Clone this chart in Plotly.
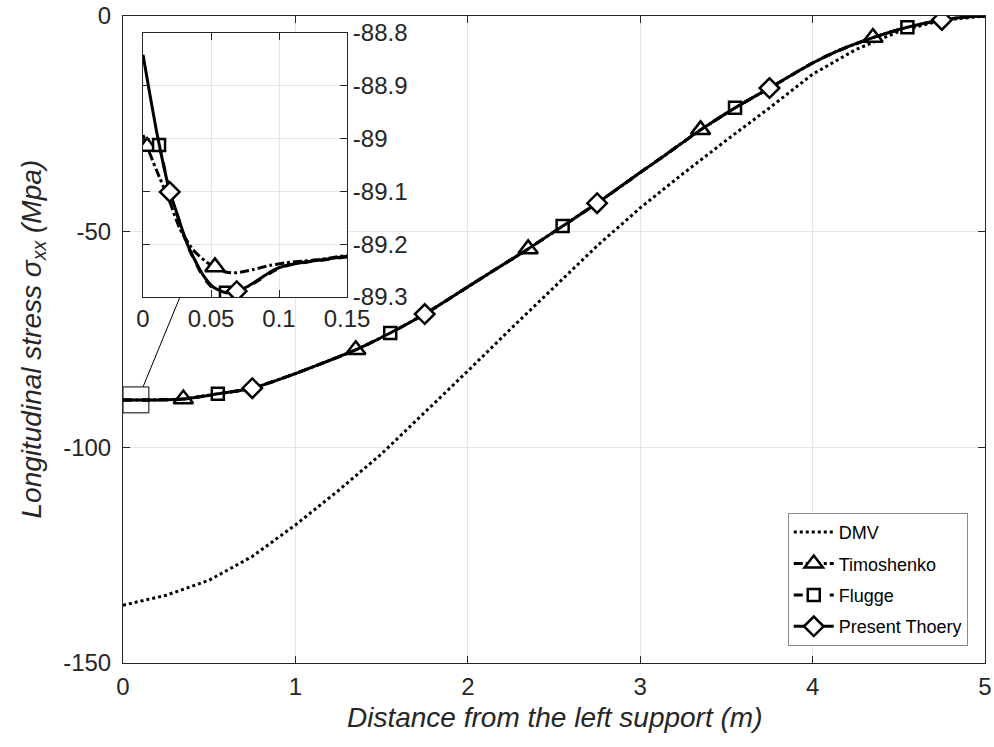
import plotly.graph_objects as go

# ---------------- data ----------------
# DMV (dotted)
dmv_x = [0, 0.25, 0.5, 0.75, 1.0, 1.25, 1.5, 1.75, 2.0, 2.25, 2.5, 2.75, 3.0,
         3.25, 3.5, 3.75, 4.0, 4.25, 4.5, 4.75, 5.0]
dmv_y = [-136.6, -134.3, -130.8, -125.3, -118.0, -110.0, -101.5, -92.0, -82.3,
         -72.5, -62.8, -53.3, -44.5, -36.5, -28.8, -21.3, -13.5, -7.8, -3.6, -1.0, 0.0]

# Timoshenko / Flugge / Present theory coincide at the scale of the main axes
main_x = [0, 0.2, 0.35, 0.55, 0.75, 1.0, 1.15, 1.35, 1.55, 1.75, 2.0, 2.15, 2.35,
          2.55, 2.75, 3.0, 3.15, 3.35, 3.55, 3.75, 4.0, 4.15, 4.35, 4.55, 4.75, 4.9, 5.0]
main_y = [-89.0, -89.0, -88.8, -87.6, -86.3, -82.9, -80.6, -77.4, -73.5, -69.1,
          -62.8, -59.0, -54.0, -48.7, -43.4, -36.3, -32.1, -26.4, -21.3, -16.7,
          -10.9, -8.0, -5.0, -2.6, -0.9, -0.2, 0.0]

# marker positions on the main axes
timo_mx = [0.35, 1.35, 2.35, 3.35, 4.35]
timo_my = [-88.8, -77.4, -54.0, -26.4, -5.0]
flug_mx = [0.55, 1.55, 2.55, 3.55, 4.55]
flug_my = [-87.6, -73.5, -48.7, -21.3, -2.6]
pres_mx = [0.75, 1.75, 2.75, 3.75, 4.75]
pres_my = [-86.3, -69.1, -43.4, -16.7, -0.9]

# inset (zoom near the left support)
pres_ix = [0, 0.0049, 0.0098, 0.0148, 0.0197, 0.0258, 0.032, 0.0381, 0.0443, 0.0516,
           0.061, 0.0689, 0.0762, 0.0861, 0.0959, 0.1057, 0.118, 0.1303, 0.15]
pres_iy = [-88.841, -88.914, -88.984, -89.047, -89.101, -89.148, -89.196, -89.230,
           -89.259, -89.281, -89.292, -89.289, -89.281, -89.265, -89.249, -89.240,
           -89.234, -89.230, -89.223]
timo_ix = [0, 0.003, 0.0098, 0.0197, 0.027, 0.0369, 0.0467, 0.0529, 0.0615, 0.0689,
           0.0811, 0.0934, 0.1057, 0.118, 0.130, 0.15]
timo_iy = [-88.993, -89.015, -89.059, -89.120, -89.170, -89.211, -89.234, -89.243,
           -89.253, -89.254, -89.248, -89.240, -89.235, -89.232, -89.229, -89.221]
flug_ix = [0.0118, 0.0148, 0.0197, 0.0258, 0.032, 0.0381, 0.0443, 0.0516, 0.061,
           0.0689, 0.0762, 0.0861, 0.0959, 0.1057, 0.118, 0.1303, 0.15]
flug_iy = [-89.012, -89.045, -89.100, -89.150, -89.198, -89.232, -89.262, -89.284,
           -89.292, -89.289, -89.282, -89.267, -89.251, -89.241, -89.235, -89.231,
           -89.224]
timo_imx = [0.003, 0.0529]
timo_imy = [-89.015, -89.243]
flug_imx = [0.0118, 0.061]
flug_imy = [-89.012, -89.292]
pres_imx = [0.0197, 0.0689]
pres_imy = [-89.101, -89.289]

# ticks
x_ticks = [0, 1, 2, 3, 4, 5]
x_ticktext = ["0", "1", "2", "3", "4", "5"]
y_ticks = [-150, -100, -50, 0]
y_ticktext = ["-150", "-100", "-50", "0"]
ix_ticks = [0, 0.05, 0.1, 0.15]
ix_ticktext = ["0", "0.05", "0.1", "0.15"]
iy_ticks = [-89.3, -89.2, -89.1, -89.0, -88.9, -88.8]
iy_ticktext = ["-89.3", "-89.2", "-89.1", "-89", "-88.9", "-88.8"]

names = ["DMV", "Timoshenko", "Flugge", "Present Thoery"]

# zoom-window annotation on the main axes
zoom_box = dict(x0=0, x1=0.15, y0=-92, y1=-86)
connector = dict(x0=0.116, y0=-86, x1=0.33, y1=-65.2)

# ---------------- figure ----------------
INK = "#262626"
FONT = "Liberation Sans, Arial, sans-serif"
GRID = "#e6e6e6"

fig = go.Figure()

styles = {
    "Timoshenko": dict(dash="dashdot", symbol="triangle-up", size=17),
    "Flugge": dict(dash="dash", symbol="square", size=12),
    "Present Thoery": dict(dash="solid", symbol="diamond", size=15),
}

# DMV
fig.add_trace(go.Scatter(x=dmv_x, y=dmv_y, mode="lines", name=names[0],
                         line=dict(color="black", width=3, dash="dot"),
                         legendrank=1, legendgroup="g1", showlegend=True))

series = [
    ("Timoshenko", main_x, main_y, timo_mx, timo_my, timo_ix, timo_iy, timo_imx, timo_imy),
    ("Flugge", main_x, main_y, flug_mx, flug_my, flug_ix, flug_iy, flug_imx, flug_imy),
    ("Present Thoery", main_x, main_y, pres_mx, pres_my, pres_ix, pres_iy, pres_imx, pres_imy),
]

for rank, (nm, lx, ly, mx, my, ix, iy, imx, imy) in enumerate(series, start=2):
    st = styles[nm]
    line = dict(color="black", width=3, dash=st["dash"], shape="spline", smoothing=0.6)
    marker = dict(symbol=st["symbol"], size=st["size"], color="white",
                  line=dict(color="black", width=2.5))
    grp = "g%d" % rank
    fig.add_trace(go.Scatter(x=lx, y=ly, mode="lines", line=line, showlegend=False,
                             legendgroup=grp, hoverinfo="skip"))
    fig.add_trace(go.Scatter(x=mx, y=my, mode="markers", marker=marker, showlegend=False,
                             legendgroup=grp))
    fig.add_trace(go.Scatter(x=ix, y=iy, mode="lines", line=line, showlegend=False,
                             legendgroup=grp, xaxis="x2", yaxis="y2", hoverinfo="skip"))
    fig.add_trace(go.Scatter(x=imx, y=imy, mode="markers", marker=marker, showlegend=False,
                             legendgroup=grp, xaxis="x2", yaxis="y2"))
    # legend entry (line + marker)
    fig.add_trace(go.Scatter(x=[None], y=[None], mode="lines+markers", name=nm,
                             line=dict(color="black", width=3, dash=st["dash"]),
                             marker=marker, legendrank=rank, legendgroup=grp))

axis_common = dict(showline=True, linecolor=INK, linewidth=1, mirror="ticks",
                   ticks="inside", ticklen=7, tickcolor=INK, showgrid=True,
                   gridcolor=GRID, gridwidth=1, zeroline=False, automargin=False,
                   ticklabeloverflow="allow",
                   tickfont=dict(family=FONT, size=24, color=INK))

fig.update_layout(
    width=994, height=747,
    margin=dict(l=123, r=9, t=16, b=84, autoexpand=False),
    paper_bgcolor="white", plot_bgcolor="white",
    font=dict(family=FONT, color=INK),
    xaxis=dict(range=[0, 5], tickvals=x_ticks, ticktext=x_ticktext, domain=[0, 1],
               ticklabelstandoff=2, **axis_common),
    yaxis=dict(range=[-150, 0], tickvals=y_ticks, ticktext=y_ticktext, domain=[0, 1],
               ticklabelstandoff=6, **axis_common),
    xaxis2=dict(range=[0, 0.15], tickvals=ix_ticks, ticktext=ix_ticktext,
                domain=[0.0232, 0.2599], anchor="y2", **axis_common),
    yaxis2=dict(range=[-89.3, -88.8], tickvals=iy_ticks, ticktext=iy_ticktext,
                domain=[0.5657, 0.9737], anchor="x2", side="right", **axis_common),
    legend=dict(x=0.980, y=0.232, xanchor="right", yanchor="top",
                bgcolor="white", bordercolor="#8c8c8c", borderwidth=1,
                font=dict(family=FONT, size=18, color="black"),
                itemwidth=40, traceorder="grouped", tracegroupgap=5),
    showlegend=True,
    shapes=[
        dict(type="rect", xref="x", yref="y", line=dict(color="black", width=1),
             fillcolor="rgba(0,0,0,0)", **zoom_box),
        dict(type="line", xref="x", yref="y", line=dict(color="black", width=1),
             **connector),
    ],
    annotations=[
        dict(text="<i>Distance from the left support (m)</i>", xref="paper", yref="paper",
             x=0.5, y=-0.0835, xanchor="center", yanchor="middle", showarrow=False,
             font=dict(family=FONT, size=28, color=INK)),
        dict(text="<i>Longitudinal stress σ<sub>xx</sub> (Mpa)</i>", xref="paper",
             yref="paper", x=-0.1044, y=0.5, xanchor="center", yanchor="middle",
             textangle=-90, showarrow=False,
             font=dict(family=FONT, size=28, color=INK)),
    ],
)

# remove the browser's default 8px body margin so the figure fills the window
fig.write_html("out.html",
               config={"displayModeBar": False},
               post_script="document.body.style.margin='0px';"
                           "document.body.style.overflow='hidden';")
